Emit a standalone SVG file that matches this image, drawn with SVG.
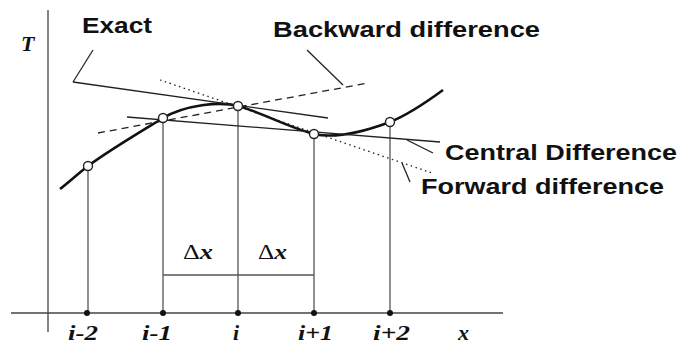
<svg xmlns="http://www.w3.org/2000/svg" width="681" height="345" viewBox="0 0 681 345">
<style>
.lbl{font-family:"Liberation Sans",Arial,sans-serif;font-weight:bold;font-size:22px;fill:#111}
.math{font-family:"Liberation Serif","Times New Roman",serif;font-weight:bold;font-style:italic;font-size:22px;fill:#111}
.thin{fill:none;stroke:#222;stroke-width:1.3}
.vl{fill:none;stroke:#555;stroke-width:1.3}
.node{fill:#fff;stroke:#222;stroke-width:1.4}
.tick{fill:#111}
</style>
<rect width="681" height="345" fill="#fff"/>
<g id="axes">
<line x1="48" y1="10" x2="48" y2="332" stroke="#777" stroke-width="1.8"/>
<line x1="11" y1="313" x2="503" y2="313" stroke="#444" stroke-width="1.5"/>
<text class="math" x="21" y="51" font-size="24">T</text>
<text class="math" x="458" y="340">x</text>
</g>
<g id="connectors">
<line class="vl" x1="88" y1="166" x2="88" y2="313" stroke="#888"/>
<line class="vl" x1="163" y1="118" x2="163" y2="313"/>
<line class="vl" x1="238" y1="106" x2="238" y2="313"/>
<line class="vl" x1="314" y1="134" x2="314" y2="313"/>
<line class="vl" x1="390" y1="122" x2="390" y2="313"/>
<path d="M60,189 C70,181 79,173 88,166 C108,151 140,132 163,118 C185,105 220,101 238,106 C258,111 290,128 314,134 C332,138 358,134 390,122 C410,114 428,101 443,90" fill="none" stroke="#111" stroke-width="2.6"/>
<line class="thin" x1="73" y1="82" x2="328" y2="118"/>
<line class="thin" x1="73" y1="82" x2="93" y2="50"/>
<line class="thin" x1="98" y1="133" x2="368" y2="83" stroke-dasharray="7,5" stroke-width="1.5"/>
<line class="thin" x1="307" y1="50" x2="343" y2="85"/>
<line class="thin" x1="160" y1="80" x2="432" y2="173" stroke-dasharray="1.5,3.5"/>
<line class="thin" x1="402" y1="163" x2="410" y2="182"/>
<line class="thin" x1="127" y1="117" x2="440" y2="142"/>
<line class="thin" x1="407" y1="140" x2="433" y2="153"/>
<line class="vl" x1="163" y1="275" x2="314" y2="275"/>
</g>
<g id="n-im2"><circle class="node" cx="88" cy="166" r="4.5"/><circle class="tick" cx="87" cy="313" r="3"/><text class="math" x="68" y="340" textLength="30" lengthAdjust="spacingAndGlyphs">i-2</text></g>
<g id="n-im1"><circle class="node" cx="163" cy="118" r="4.5"/><circle class="tick" cx="163" cy="313" r="3"/><text class="math" x="142" y="340" textLength="30" lengthAdjust="spacingAndGlyphs">i-1</text></g>
<g id="n-i"><circle class="node" cx="238" cy="106" r="4.5"/><circle class="tick" cx="238" cy="313" r="3"/><text class="math" x="233" y="340">i</text></g>
<g id="n-ip1"><circle class="node" cx="314" cy="134" r="4.5"/><circle class="tick" cx="314" cy="313" r="3"/><text class="math" x="298" y="340" textLength="35" lengthAdjust="spacingAndGlyphs">i+1</text></g>
<g id="n-ip2"><circle class="node" cx="390" cy="122" r="4.5"/><circle class="tick" cx="390" cy="313" r="3"/><text class="math" x="373" y="340" textLength="37" lengthAdjust="spacingAndGlyphs">i+2</text></g>
<g id="dx">
<text x="183" y="259" font-family="Liberation Serif,serif" font-size="21" fill="#111" textLength="30" lengthAdjust="spacingAndGlyphs">Δ<tspan font-style="italic" font-weight="bold">x</tspan></text>
<text x="258" y="259" font-family="Liberation Serif,serif" font-size="21" fill="#111" textLength="29" lengthAdjust="spacingAndGlyphs">Δ<tspan font-style="italic" font-weight="bold">x</tspan></text>
</g>
<g id="labels">
<text class="lbl" x="82" y="33" textLength="70" lengthAdjust="spacingAndGlyphs">Exact</text>
<text class="lbl" x="273" y="37" textLength="267" lengthAdjust="spacingAndGlyphs">Backward difference</text>
<text class="lbl" x="445" y="160" textLength="232" lengthAdjust="spacingAndGlyphs">Central Difference</text>
<text class="lbl" x="421" y="194" textLength="243" lengthAdjust="spacingAndGlyphs">Forward difference</text>
</g>
</svg>
